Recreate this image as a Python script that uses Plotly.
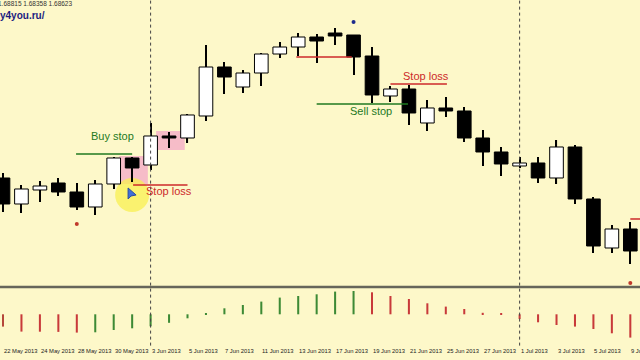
import plotly.graph_objects as go

# ---- data ----
dates = ["22 May","23 May","24 May","27 May","28 May","29 May","30 May","31 May",
         "3 Jun","4 Jun","5 Jun","6 Jun","7 Jun","10 Jun","11 Jun","12 Jun","13 Jun",
         "14 Jun","17 Jun","18 Jun","19 Jun","20 Jun","21 Jun","24 Jun","25 Jun",
         "26 Jun","27 Jun","28 Jun","1 Jul","2 Jul","3 Jul","4 Jul","5 Jul","8 Jul","9 Jul"]
opens  = [1.2922,1.2896,1.2910,1.2917,1.2908,1.2893,1.2916,1.2942,1.2935,1.2964,1.2962,
          1.2984,1.3033,1.3013,1.3027,1.3046,1.3053,1.3063,1.3067,1.3065,1.3044,1.3004,
          1.3011,1.2977,1.2992,1.2989,1.2962,1.2948,1.2934,1.2937,1.2922,1.2953,1.2901,
          1.2852,1.2871]
highs  = [1.2927,1.2915,1.2919,1.2922,1.2917,1.2920,1.2943,1.2943,1.2977,1.2968,1.2986,
          1.3055,1.3038,1.3030,1.3047,1.3058,1.3067,1.3066,1.3072,1.3065,1.3053,1.3014,
          1.3015,1.3000,1.3003,1.2993,1.2970,1.2953,1.2943,1.2943,1.2960,1.2955,1.2903,
          1.2875,1.2878]
lows   = [1.2888,1.2887,1.2898,1.2904,1.2890,1.2885,1.2911,1.2918,1.2930,1.2952,1.2957,
          1.2979,1.3006,1.3007,1.3014,1.3042,1.3044,1.3037,1.3055,1.3025,1.2997,1.2998,
          1.2975,1.2969,1.2983,1.2958,1.2934,1.2924,1.2932,1.2917,1.2916,1.2896,1.2847,
          1.2847,1.2836]
closes = [1.2896,1.2911,1.2914,1.2908,1.2893,1.2916,1.2942,1.2932,1.2964,1.2962,1.2985,
          1.3033,1.3023,1.3027,1.3046,1.3053,1.3063,1.3059,1.3064,1.3043,1.3005,1.3011,
          1.2987,1.2992,1.2989,1.2962,1.2948,1.2936,1.2937,1.2922,1.2953,1.2901,1.2854,
          1.2871,1.2849]
osma = [-12.3,-17.3,-17.4,-17.6,-18.3,-18.0,-15.7,-14.0,-12.0,-8.5,-4.0,0.5,6.0,9.3,12.7,
        16.7,18.3,20.0,22.7,23.3,22.0,18.3,15.3,11.0,7.7,5.3,1.5,0.8,-4.7,-8.0,-10.7,
        -12.3,-14.7,-19.0,-23.3]
tick_labels = ["22 May 2013","24 May 2013","28 May 2013","30 May 2013","3 Jun 2013",
               "5 Jun 2013","7 Jun 2013","11 Jun 2013","13 Jun 2013","17 Jun 2013",
               "19 Jun 2013","21 Jun 2013","25 Jun 2013","27 Jun 2013","1 Jul 2013",
               "3 Jul 2013","5 Jul 2013","9 Jul 2013"]
fractal_bars = [4, 19, 34]
fractal_prices = [1.2876, 1.3078, 1.2817]
fractal_colors = ["#c0392b", "#1c2a8c", "#c0392b"]
# order levels: (start bar, end bar, price, kind)
levels = [(3.96, 7.0, 1.2946, "buy"), (7.05, 10.0, 1.2915, "sl"),
          (15.9, 18.9, 1.3043, "sl"), (17.0, 21.95, 1.2996, "sell"),
          (21.0, 24.06, 1.3016, "sl"), (34.0, 35.0, 1.2881, "sl")]
level_texts = [("Buy stop", 5.93, 1.2964, "buy"), ("Stop loss", 8.97, 1.2909, "sl"),
               ("Sell stop", 19.97, 1.2989, "sell"), ("Stop loss", 22.95, 1.3024, "sl")]
separator_bars = [8, 28]
pink_bars = [7, 9]

BG = "#fdf8c9"
GREEN = "#1f7a1f"
RED = "#cc2a2a"
n = len(closes)
xs = list(range(n))

fig = go.Figure()

# wicks (thin bars, drawn first so bodies cover them)
fig.add_trace(go.Bar(
    x=xs, y=[h - l for h, l in zip(highs, lows)], base=lows, width=0.06,
    marker=dict(color="black", line=dict(width=0)), showlegend=False,
    xaxis="x", yaxis="y"))
# bodies
body_base = [min(o, c) for o, c in zip(opens, closes)]
body_h = [max(abs(c - o), 0.00008) for o, c in zip(opens, closes)]
body_fill = ["white" if c >= o else "black" for o, c in zip(opens, closes)]
fig.add_trace(go.Bar(
    x=xs, y=body_h, base=body_base, width=0.74,
    marker=dict(color=body_fill, line=dict(color="black", width=1)), showlegend=False,
    xaxis="x", yaxis="y"))

fig.add_trace(go.Scatter(
    x=fractal_bars, y=fractal_prices, mode="markers",
    marker=dict(size=4, color=fractal_colors), showlegend=False,
    xaxis="x", yaxis="y"))

hist_colors = []
for i, v in enumerate(osma):
    if i == 0:
        hist_colors.append("#b5473a")
    else:
        hist_colors.append("#3d8a35" if v > osma[i - 1] else "#c83a3a")

fig.add_trace(go.Bar(
    x=xs, y=osma, base=0, width=0.11, marker=dict(color=hist_colors, line=dict(width=0)),
    showlegend=False, xaxis="x2", yaxis="y2"))

shapes = []
# pink zones
for b in pink_bars:
    shapes.append(dict(type="rect", xref="x", yref="y", x0=b - 0.7, x1=b + 0.85,
                       y0=lows[b] - 0.0002, y1=highs[b] + 0.0001,
                       fillcolor="#f6bcc8", line=dict(width=0), layer="below"))
# cursor highlight
shapes.append(dict(type="circle", xref="x", yref="y", xsizemode="pixel", ysizemode="pixel",
                   xanchor=7.0, yanchor=1.2905, x0=-17, x1=17, y0=-17, y1=17,
                   fillcolor="rgba(248,240,80,0.75)", line=dict(width=0), layer="below"))
# level lines
for x0, x1, p, kind in levels:
    shapes.append(dict(type="line", xref="x", yref="y", x0=x0, x1=x1, y0=p, y1=p,
                       line=dict(color=GREEN if kind != "sl" else RED, width=1.5)))
# period separators
for b in separator_bars:
    shapes.append(dict(type="line", xref="x", yref="paper", x0=b, x1=b, y0=0.04, y1=1,
                       line=dict(color="#444444", width=1, dash="dot")))
# panel separator
shapes.append(dict(type="line", xref="paper", yref="paper", x0=0, x1=1, y0=0.2025, y1=0.2025,
                   line=dict(color="#66665a", width=2.5)))
# cursor arrow
shapes.append(dict(type="path", xref="x", yref="y", xsizemode="pixel", ysizemode="pixel",
                   xanchor=6.78, yanchor=1.2912, path="M0,0 L0,-11 L3,-8 L8,-7 Z",
                   fillcolor="#3f6fd8", line=dict(color="#2a4aa0", width=1)))

annotations = []
for text, x, p, kind in level_texts:
    annotations.append(dict(text=text, x=x, y=p, xref="x", yref="y", showarrow=False,
                            font=dict(family="Liberation Sans", size=11,
                                      color=GREEN if kind != "sl" else RED)))
for k, t in enumerate(tick_labels):
    annotations.append(dict(text=t, x=2 * k, y=0.025, xref="x2", yref="paper",
                            xanchor="left", yanchor="middle", xshift=-1, showarrow=False,
                            font=dict(family="Liberation Sans", size=5.8, color="#222222")))
annotations.append(dict(text="1.68815 1.68358 1.68623", x=0, y=0.989, xref="paper",
                        yref="paper", xanchor="left", yanchor="middle", xshift=-4,
                        showarrow=False,
                        font=dict(family="Liberation Sans", size=6.5, color="#333333")))
annotations.append(dict(text="<b>y4you.ru/</b>", x=0, y=0.958, xref="paper", yref="paper",
                        xanchor="left", yanchor="middle", xshift=-2, showarrow=False,
                        font=dict(family="Liberation Sans", size=10, color="#1c1c80")))

xr = [-0.1626, 34.525]
fig.update_layout(
    width=640, height=360, margin=dict(l=0, r=0, t=0, b=0),
    paper_bgcolor=BG, plot_bgcolor=BG, barmode="overlay",
    xaxis=dict(range=xr, visible=False, fixedrange=True, domain=[0, 1], anchor="y"),
    yaxis=dict(range=[1.2814, 1.31], visible=False, domain=[0.2056, 1], anchor="x"),
    xaxis2=dict(range=xr, visible=False, domain=[0, 1], anchor="y2"),
    yaxis2=dict(range=[-27.7, 26.3], visible=False, domain=[0.05, 0.2], anchor="x2"),
    shapes=shapes, annotations=annotations, showlegend=False,
)

fig.write_html("out.html")
